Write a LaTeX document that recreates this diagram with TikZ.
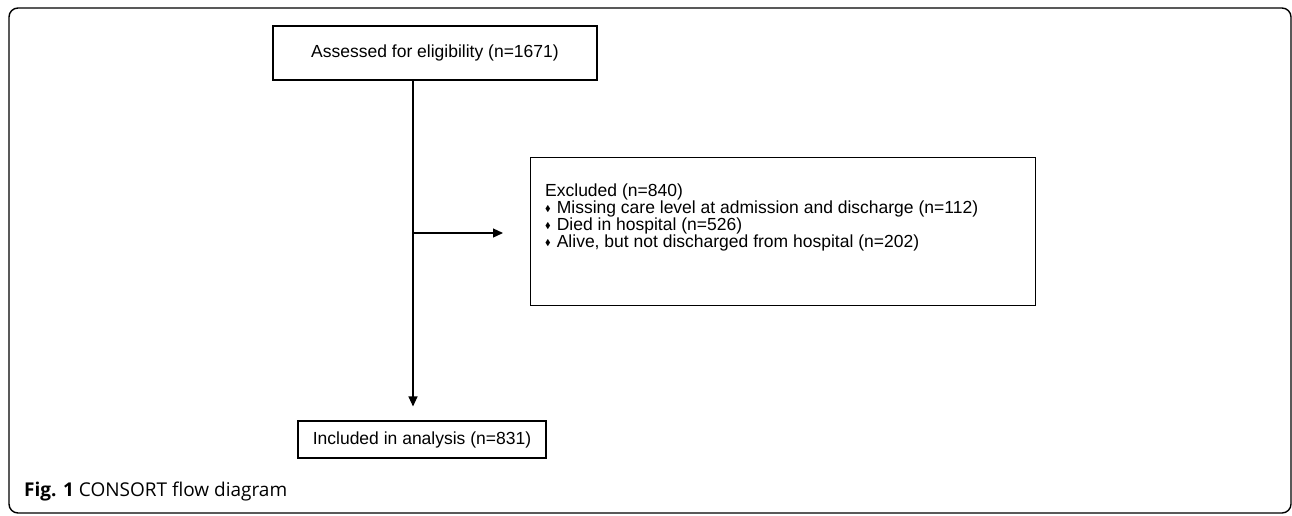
\documentclass[tikz,border=0pt]{standalone}
\usepackage{fontspec}
\usepackage{amssymb}
\usepackage{graphicx}
\setmainfont{Liberation Sans}
\newfontfamily\capfont{Open Sans}
\usetikzlibrary{arrows.meta, positioning, calc}
\newcommand{\dmd}{\raisebox{2pt}{\scalebox{0.48}{$\blacklozenge$}}\hspace{6pt}}

\begin{document}
\begin{tikzpicture}[x=1pt, y=-1pt,
  box/.style={draw, line width=1.1pt, inner sep=0pt,
              font=\fontsize{17.5}{17}\selectfont},
  flow/.style={-{Triangle[length=10pt, width=9pt]}, line width=1.2pt},
  frame/.style={draw, line width=1.4pt, rounded corners=9pt}
]
  \useasboundingbox (0,0) rectangle (1292,515);
  \draw[frame] (9,8) rectangle (1291,513);

  \node[box, minimum width=324pt, minimum height=54pt] (assess) at (435,53)
        {Assessed for eligibility (n=1671)};
  \node[box, minimum width=505pt, minimum height=148pt, anchor=north west] (excl) at (530,157) {};
  \node[align=left, anchor=north west, inner sep=0pt,
        font=\fontsize{17.5}{17}\selectfont] (exlist) at (545,184)
        {Excluded (n=840)\\
         \dmd Missing care level at admission and discharge (n=112)\\
         \dmd Died in hospital (n=526)\\
         \dmd Alive, but not discharged from hospital (n=202)};
  \node[box, minimum width=248pt, minimum height=37pt] (incl) at (422,439.5)
        {Included in analysis (n=831)};

  \coordinate (split) at (413,233);
  \draw[flow, shorten >=14pt] (assess.south -| split) -- (split |- incl.north);
  \draw[flow, shorten >=27pt] (split) -- (split -| excl.west);

  \node[anchor=base west, inner sep=0pt, font=\capfont\fontsize{19}{19}\selectfont] (cap)
        at (24,496) {\textbf{Fig. 1} CONSORT flow diagram};
\end{tikzpicture}
\end{document}
